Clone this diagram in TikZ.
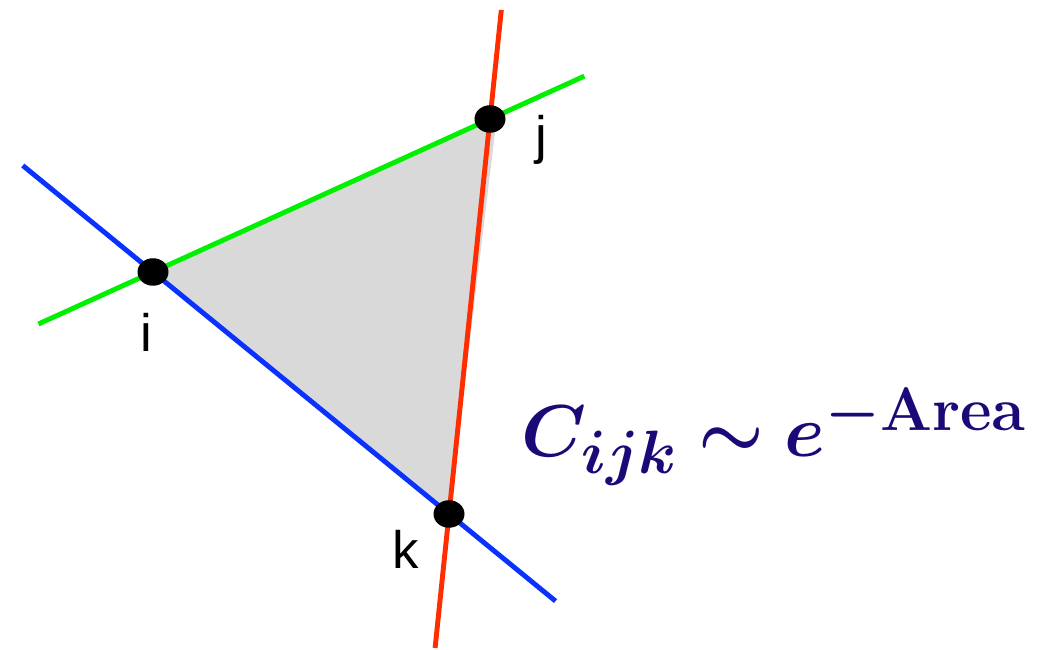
\documentclass[tikz,border=0pt]{standalone}
\usepackage{amsmath, amssymb, bm}
\usepackage{fontspec}
\setmainfont{Liberation Sans}
\usepackage{tikz}
\usetikzlibrary{calc, positioning, shapes.geometric}
\definecolor{lineblue}{RGB}{10, 50, 255}
\definecolor{linegreen}{RGB}{0, 240, 0}
\definecolor{linered}{RGB}{255, 45, 0}
\definecolor{areagray}{RGB}{217, 217, 217}
\definecolor{formulablue}{RGB}{26, 10, 120}
\tikzset{
    vertex/.style={ellipse, fill=black, inner sep=0pt, minimum width=0.62cm, minimum height=0.55cm},
    vlabel/.style={font=\fontsize{30}{36}\selectfont},
    bond/.style={line width=2.8pt}
}

\begin{document}
\begin{tikzpicture}
    \useasboundingbox (0,0) rectangle (21.06,13);

    % --- VERTICES ---
    \coordinate (pi) at (3.06, 7.56);
    \coordinate (pj) at (9.80, 10.62);
    \coordinate (pk) at (8.98, 2.72);

    % --- SHADED AREA ---
    \fill[areagray] ([shift={(0.1,-0.12)}]pi) -- ([shift={(0.12,-0.1)}]pj) -- (pk) -- cycle;
    \fill[areagray] (pi) -- (pj) -- (pk) -- cycle;

    % --- LINES ---
    \coordinate (gstart) at ($(pi)!-0.34!(pj)$);
    \coordinate (gend) at ($(pi)!1.28!(pj)$);
    \coordinate (bstart) at ($(pi)!-0.44!(pk)$);
    \coordinate (bend) at ($(pi)!1.36!(pk)$);
    \coordinate (rstart) at ($(pj)!-0.276!(pk)$);
    \coordinate (rend) at ($(pj)!1.339!(pk)$);
    \draw[bond, linegreen] (gstart) -- (gend);
    \draw[bond, lineblue] (bstart) -- (bend);
    \draw[bond, linered] (rstart) -- (rend);

    % --- DOTS AND LABELS ---
    \node[vertex] (i) at (pi) {};
    \node[vertex] (j) at (pj) {};
    \node[vertex] (k) at (pk) {};
    \node[vlabel] (li) at (2.92, 6.36) {i};
    \node[vlabel] (lj) at (10.82, 10.2) {j};
    \node[vlabel] (lk) at (8.12, 2.02) {k};

    % --- FORMULA ---
    \node[text=formulablue, font=\fontsize{24.88}{30}\selectfont] (formula) at (15.48, 4.26)
        {\scalebox{1.68}{$\boldsymbol{C_{ijk} \sim e^{-\mathbf{Area}}}$}};
\end{tikzpicture}
\end{document}
